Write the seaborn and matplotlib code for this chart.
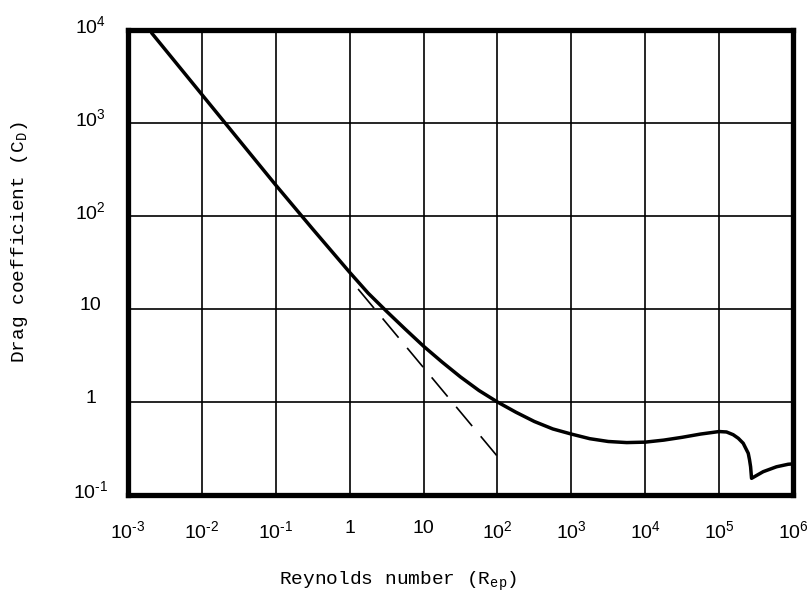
import matplotlib
matplotlib.use("Agg")
import matplotlib.pyplot as plt
import matplotlib.transforms as mtransforms
import seaborn as sns
import pandas as pd

# ---- data ----
re_curve = [0.00209, 0.1, 0.316, 1.0, 1.78, 3.16, 5.62, 10.0, 17.8, 31.6,
            56.2, 100.0, 178.0, 316.0, 562.0, 1000.0, 1778.0, 3162.0, 5623.0,
            1.0e4, 1.78e4, 3.16e4, 5.62e4, 1.0e5, 1.26e5, 1.55e5, 1.82e5,
            2.12e5, 2.48e5, 2.58e5, 2.67e5, 2.75e5, 3.95e5, 5.98e5, 8.61e5, 1.0e6]
cd_curve = [9290, 215, 72.4, 24.8, 14.8, 9.44, 6.10, 3.98, 2.69, 1.86,
            1.33, 1.0, 0.776, 0.617, 0.513, 0.452, 0.403, 0.376, 0.366,
            0.370, 0.389, 0.417, 0.452, 0.481, 0.476, 0.445, 0.407,
            0.360, 0.281, 0.240, 0.201, 0.151, 0.178, 0.201, 0.214, 0.216]
re_stokes = [1.3, 100.0]
cd_stokes = [16.4, 0.26]

x_ticks = [1e-3, 1e-2, 1e-1, 1, 10, 1e2, 1e3, 1e4, 1e5, 1e6]
x_labels = [r"$10^{\text{-}3}$", r"$10^{\text{-}2}$", r"$10^{\text{-}1}$", "1",
            "10", "$10^{2}$", "$10^{3}$", "$10^{4}$", "$10^{5}$", "$10^{6}$"]
y_ticks = [1e-1, 1, 10, 1e2, 1e3, 1e4]
y_labels = [r"$10^{\text{-}1}$", "1", "10", "$10^{2}$", "$10^{3}$", "$10^{4}$"]

x_title = r"Reynolds number (R$_{\mathtt{ep}}$)"
y_title = r"Drag coefficient (C$_{\mathtt{D}}$)"

# ---- styling ----
sns.set_style("white")
plt.rcParams["font.family"] = ["Liberation Sans", "DejaVu Sans"]
plt.rcParams["mathtext.fontset"] = "custom"
plt.rcParams["mathtext.rm"] = "Liberation Sans"
plt.rcParams["mathtext.it"] = "Liberation Sans:italic"
plt.rcParams["mathtext.tt"] = "Liberation Mono"

fig = plt.figure(figsize=(8.08, 6.01), dpi=100)
ax = fig.add_axes([0.1584, 0.1764, 0.823, 0.7737])

df_curve = pd.DataFrame({"Re": re_curve, "Cd": cd_curve})
df_stokes = pd.DataFrame({"Re": re_stokes, "Cd": cd_stokes})

sns.lineplot(data=df_curve, x="Re", y="Cd", ax=ax, color="black", lw=2.5,
             sort=False, estimator=None, zorder=5)
sns.lineplot(data=df_stokes, x="Re", y="Cd", ax=ax, color="black", lw=1.2,
             sort=False, estimator=None, zorder=4)
ax.lines[-1].set_dashes([15, 8])
ax.lines[0].set_solid_joinstyle("round")

ax.set_xscale("log")
ax.set_yscale("log")
ax.set_xlim(1e-3, 1e6)
ax.set_ylim(1e-1, 1e4)

ax.set_xticks(x_ticks)
ax.set_xticklabels(x_labels)
ax.set_yticks(y_ticks)
ax.set_yticklabels(y_labels)
ax.minorticks_off()
ax.tick_params(axis="both", length=0, labelsize=14, colors="black")
ax.tick_params(axis="x", pad=18)
ax.tick_params(axis="y", pad=27)

offset = mtransforms.ScaledTranslation(0, 4 / 72, fig.dpi_scale_trans)
for lab in ax.get_yticklabels():
    lab.set_horizontalalignment("center")
    lab.set_transform(lab.get_transform() + offset)

ax.grid(True, which="major", color="black", lw=1.2)
ax.set_axisbelow(True)
for sp in ax.spines.values():
    sp.set_visible(True)
    sp.set_color("black")
    sp.set_linewidth(3.8)
    sp.set_zorder(6)

ax.set_xlabel(x_title, family="Liberation Mono", fontsize=14, color="black",
              va="top")
ax.set_ylabel(y_title, family="Liberation Mono", fontsize=14, color="black")
ax.xaxis.set_label_coords(0.406, -0.161)
ax.yaxis.set_label_coords(-0.147, 0.544)

fig.savefig("out.png", dpi=100, facecolor="white")
